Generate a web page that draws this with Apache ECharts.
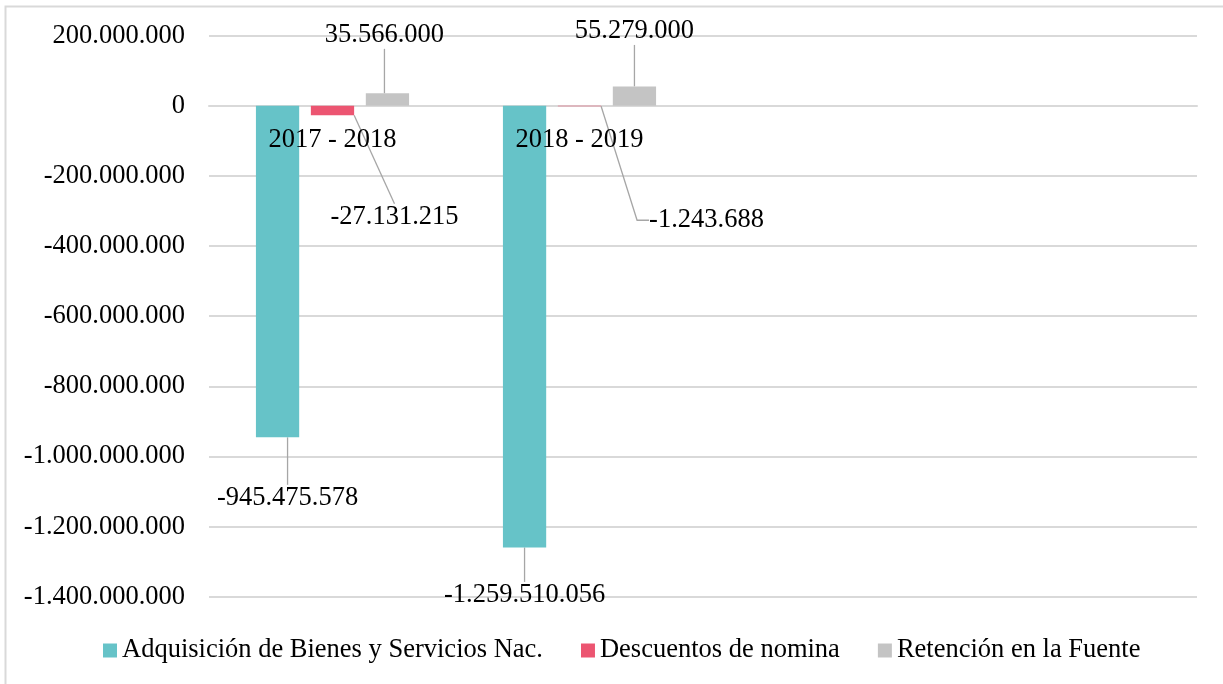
<!DOCTYPE html>
<html>
<head>
<meta charset="utf-8">
<script src="https://cdn.jsdelivr.net/npm/echarts@6/dist/echarts.min.js"></script>
<style>
  html, body { margin: 0; padding: 0; background: #ffffff; }
  #chart { width: 1223px; height: 684px; }
</style>
</head>
<body>
<div id="chart"></div>
<script>
// Periods (the two trailing slots are empty in the report layout)
const categories = ['2017 - 2018', '2018 - 2019', '', ''];

// Variation per concept, in pesos
const seriesNames = [
  'Adquisición de Bienes y Servicios Nac.',
  'Descuentos de nomina',
  'Retención en la Fuente'
];
const adquisicion = [-945475578, -1259510056, null, null];
const descuentos = [-27131215, -1243688, null, null];
const retencion = [35566000, 55279000, null, null];

// Y axis scale
const yMin = -1400000000;
const yMax = 200000000;
const yStep = 200000000;

const colors = ['#66C3C8', '#EC5571', '#C4C4C4'];
const FONT = '"Liberation Serif", "Times New Roman", serif';
const FONT_SIZE = 26.5;

// Callout offsets (label centre relative to the bar end), per series / period
const calloutOffsets = [
  [[10, 61], [0, 48]],
  [[62, 102], [127, 114]],
  [[-3, -58], [0, -55]]
];

function fmt(v) {
  const neg = v < 0;
  const s = Math.abs(Math.round(v)).toString().replace(/\B(?=(\d{3})+(?!\d))/g, '.');
  return (neg ? '-' : '') + s;
}

function makeSeries(idx, values) {
  return {
    name: seriesNames[idx],
    type: 'bar',
    data: values.map(function (v, i) {
      const item = { value: v };
      if (idx === 1 && i === 1) item.labelLine = { length2: 12 };
      return item;
    }),
    barGap: '27%',
    barCategoryGap: '38%',
    itemStyle: { color: colors[idx] },
    label: {
      show: true,
      position: 'top',
      formatter: function (p) { return fmt(p.value); },
      fontFamily: FONT,
      fontSize: FONT_SIZE,
      color: '#000000'
    },
    labelLine: {
      show: true,
      length2: 0,
      lineStyle: { color: '#A6A6A6', width: 1.3 }
    },
    labelLayout: function (p) {
      const off = calloutOffsets[idx][p.dataIndex];
      if (!off) return {};
      const v = values[p.dataIndex];
      const cx = p.rect.x + p.rect.width / 2;
      const endY = v < 0 ? p.rect.y + p.rect.height : p.rect.y;
      return {
        x: cx + off[0],
        y: endY + off[1],
        align: 'center',
        verticalAlign: 'middle'
      };
    },
    emphasis: { disabled: true }
  };
}

// Period names written just under the zero line, over the bars
const periodLabels = {
  type: 'custom',
  name: 'periodos',
  silent: true,
  z: 10,
  data: categories.map(function (c, i) { return [i, 0]; }),
  renderItem: function (params, api) {
    const idx = api.value(0);
    const text = categories[idx];
    if (!text) return null;
    const p = api.coord([idx, 0]);
    return {
      type: 'text',
      x: p[0],
      y: p[1] + 34,
      style: {
        text: text,
        fontFamily: FONT,
        fontSize: FONT_SIZE,
        fill: '#000000',
        align: 'center',
        verticalAlign: 'middle'
      }
    };
  }
};

const chart = echarts.init(document.getElementById('chart'), null, { renderer: 'canvas' });

chart.setOption({
  animation: false,
  backgroundColor: '#ffffff',
  color: colors,
  graphic: [{
    type: 'rect',
    silent: true,
    z: -10,
    shape: { x: 5.5, y: 6.5, width: 1300, height: 800 },
    style: { fill: 'none', stroke: '#D9D9D9', lineWidth: 2 }
  }],
  grid: {
    left: 209,
    right: 26,
    top: 35.7,
    bottom: 87.3,
    containLabel: false
  },
  legend: {
    left: 98,
    top: 632,
    itemWidth: 14,
    itemHeight: 14,
    itemGap: 38,
    icon: 'rect',
    selectedMode: false,
    textStyle: {
      fontFamily: FONT,
      fontSize: FONT_SIZE,
      color: '#000000'
    },
    data: seriesNames
  },
  xAxis: {
    type: 'category',
    data: categories,
    axisLine: { show: true, onZero: true, lineStyle: { color: '#D9D9D9', width: 2 } },
    axisTick: { show: false },
    splitLine: { show: false },
    axisLabel: { show: false }
  },
  yAxis: {
    type: 'value',
    min: yMin,
    max: yMax,
    interval: yStep,
    axisLine: { show: false },
    axisTick: { show: false },
    splitLine: { lineStyle: { color: '#D9D9D9', width: 2 } },
    axisLabel: {
      fontFamily: FONT,
      fontSize: FONT_SIZE,
      color: '#000000',
      margin: 24,
      formatter: function (v) { return fmt(v); }
    }
  },
  series: [
    makeSeries(0, adquisicion),
    makeSeries(1, descuentos),
    makeSeries(2, retencion),
    periodLabels
  ]
});
</script>
</body>
</html>
